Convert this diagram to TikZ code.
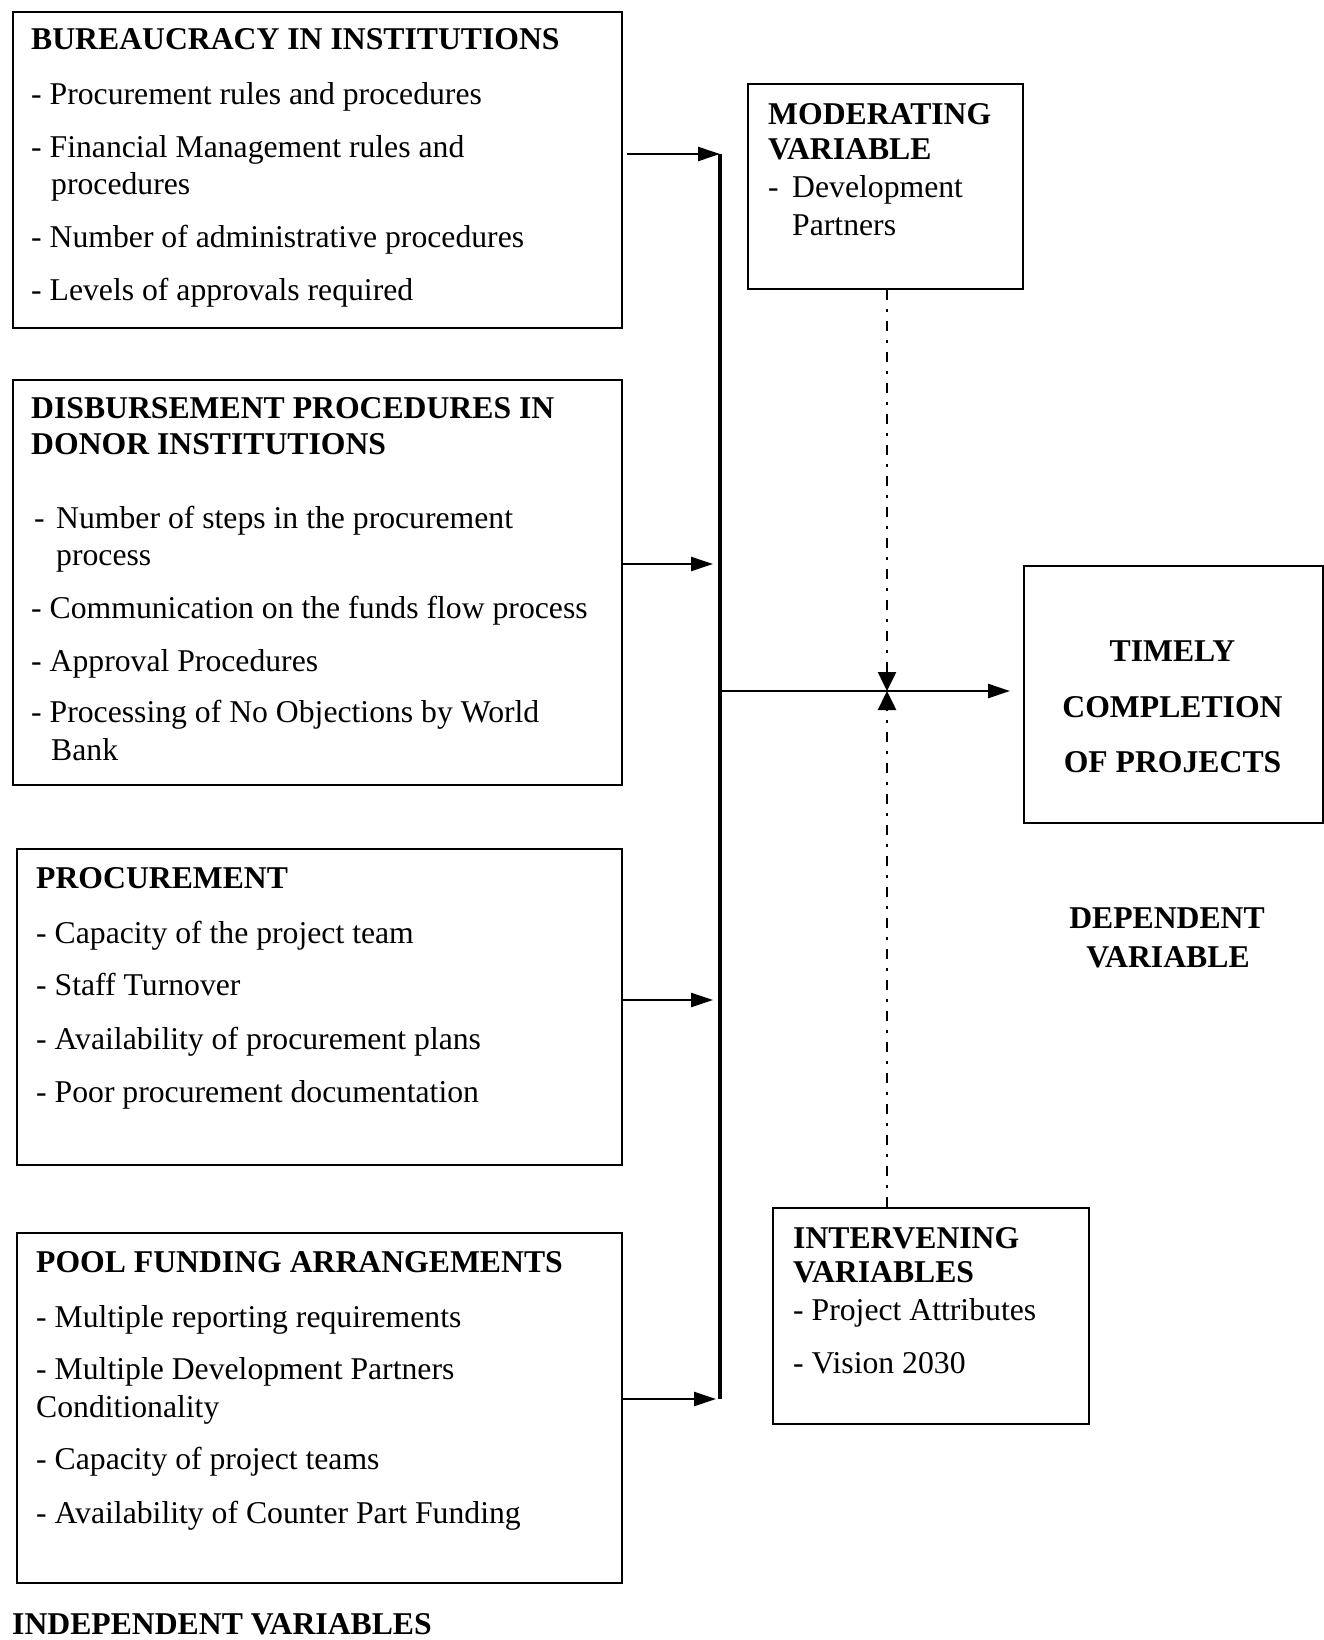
\documentclass[tikz,border=0pt]{standalone}
\usepackage{fontspec}
\setmainfont{Liberation Serif}
\usetikzlibrary{arrows.meta}
\begin{document}
\begin{tikzpicture}[x=1pt,y=-1pt,
 box/.style={draw, line width=2.3pt, anchor=north west, inner sep=0pt},
 txt/.style={anchor=base west, inner sep=0pt, font=\fontsize{31.7}{36.5}\selectfont},
 hd/.style={anchor=base west, inner sep=0pt, font=\fontsize{31.7}{36.5}\selectfont\bfseries},
 ctr/.style={anchor=base, inner sep=0pt, font=\fontsize{31.7}{36.5}\selectfont\bfseries},
 arr/.style={line width=2.5pt, -{Triangle[length=22pt,width=14pt]}},
 dd/.style={line width=2.5pt, dash pattern=on 10pt off 9pt on 3pt off 9pt, -{Triangle[length=19pt,width=18pt]}}]
\useasboundingbox (0,0) rectangle (1324,1640);

% boxes
\node[box, minimum width=609pt, minimum height=316pt] (b1) at (12,11) {};
\node[box, minimum width=609pt, minimum height=405pt] (b2) at (12,379) {};
\node[box, minimum width=605pt, minimum height=316pt] (b3) at (16,848) {};
\node[box, minimum width=605pt, minimum height=350pt] (b4) at (16,1232) {};
\node[box, minimum width=275pt, minimum height=205pt] (bm) at (747,83) {};
\node[box, minimum width=299pt, minimum height=257pt] (bt) at (1023,565) {};
\node[box, minimum width=316pt, minimum height=216pt] (bi) at (772,1207) {};

% box 1
\node[hd] (b1h) at (31,50) {BUREAUCRACY IN INSTITUTIONS};
\node[txt] (b1a) at (31,105) {- Procurement rules and procedures};
\node[txt] (b1b) at (31,158) {- Financial Management rules and};
\node[txt] (b1c) at (51,195) {procedures};
\node[txt] (b1d) at (31,247) {- Number of administrative procedures};
\node[txt] (b1e) at (31,300) {- Levels of approvals required};

% box 2
\node[hd] (b2h) at (31,418) {DISBURSEMENT PROCEDURES IN};
\node[hd] (b2i) at (31,454) {DONOR INSTITUTIONS};
\node[txt] (b2d) at (34,528) {-};
\node[txt] (b2a) at (56,528) {Number of steps in the procurement};
\node[txt] (b2b) at (56,565) {process};
\node[txt] (b2c) at (31,618) {- Communication on the funds flow process};
\node[txt] (b2e) at (31,671) {- Approval Procedures};
\node[txt] (b2f) at (31,722) {- Processing of No Objections by World};
\node[txt] (b2g) at (51,760) {Bank};

% box 3
\node[hd] (b3h) at (36,888) {PROCUREMENT};
\node[txt] (b3a) at (36,943) {- Capacity of the project team};
\node[txt] (b3b) at (36,995) {- Staff Turnover};
\node[txt] (b3c) at (36,1049) {- Availability of procurement plans};
\node[txt] (b3d) at (36,1102) {- Poor procurement documentation};

% box 4
\node[hd] (b4h) at (36,1272) {POOL FUNDING ARRANGEMENTS};
\node[txt] (b4a) at (36,1327) {- Multiple reporting requirements};
\node[txt] (b4b) at (36,1379) {- Multiple Development Partners};
\node[txt] (b4c) at (36,1417) {Conditionality};
\node[txt] (b4d) at (36,1469) {- Capacity of project teams};
\node[txt] (b4e) at (36,1523) {- Availability of Counter Part Funding};

% moderating
\node[hd] (bmh) at (768,125) {MODERATING};
\node[hd] (bmi) at (768,160) {VARIABLE};
\node[txt] (bmd) at (768,197) {-};
\node[txt] (bma) at (792,197) {Development};
\node[txt] (bmb) at (792,235) {Partners};

% intervening
\node[hd] (bih) at (793,1248) {INTERVENING};
\node[hd] (bii) at (793,1282) {VARIABLES};
\node[txt] (bia) at (793,1320) {- Project Attributes};
\node[txt] (bib) at (793,1373) {- Vision 2030};

% timely
\node[ctr] (bt1) at (1172.5,661) {TIMELY};
\node[ctr] (bt2) at (1172.5,717) {COMPLETION};
\node[ctr] (bt3) at (1172.5,772) {OF PROJECTS};

% dependent
\node[ctr] (dep1) at (1167,928) {DEPENDENT};
\node[ctr] (dep2) at (1168,967) {VARIABLE};

% independent
\node[hd] (indep) at (12,1634) {INDEPENDENT VARIABLES};

% connectors
\coordinate (bustop) at (720,154);
\coordinate (busbot) at (720,1399);
\coordinate (busmid) at (720,691);
\coordinate (a1) at (627,154);
\coordinate (a2) at (713,564);
\coordinate (a3) at (713,1000);
\coordinate (a4) at (716,1399);
\coordinate (tmain) at (1010,691);
\coordinate (cross) at (887,691);

\draw[line width=3.5pt] (bustop) -- (busbot);
\draw[arr] (a1) -- (bustop);
\draw[arr] (b2.east |- a2) -- (a2);
\draw[arr] (b3.east |- a3) -- (a3);
\draw[arr] (b4.east |- a4) -- (a4);
\draw[arr] (busmid) -- (tmain);
\draw[dd] (cross |- bm.south) -- (cross);
\draw[dd] (cross |- bi.north) -- (cross);
\end{tikzpicture}
\end{document}
